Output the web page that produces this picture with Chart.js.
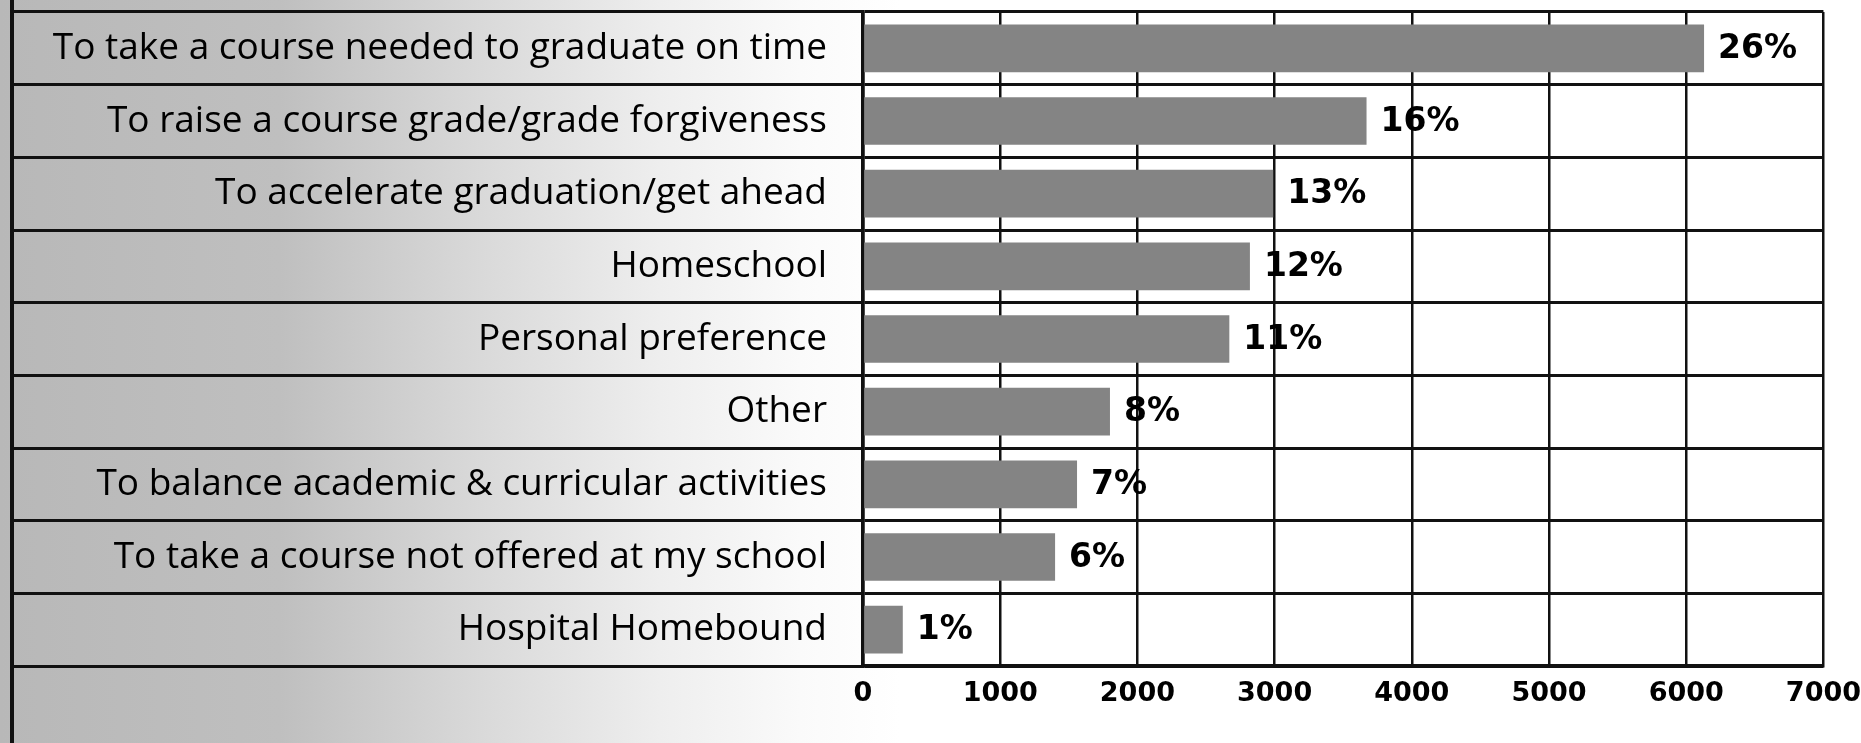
<!DOCTYPE html>
<html>
<head>
<meta charset="utf-8">
<title>Reasons for taking online courses</title>
<script src="https://cdn.jsdelivr.net/npm/chart.js@4.4.1/dist/chart.umd.min.js"></script>
<style>
    html, body {
        margin: 0;
        padding: 0;
        width: 1861px;
        height: 743px;
        overflow: hidden;
        /* fundo cinza à esquerda que clareia até o branco */
        background: linear-gradient(to right, #b8b8b8 0px, #bfbfbf 280px, #d9d9d9 480px, #eeeeee 660px, #fafafa 800px, #ffffff 900px);
    }
    #chartBox {
        position: relative;
        width: 1861px;
        height: 743px;
    }
</style>
</head>
<body>
<div id="chartBox">
    <canvas id="reasonsChart"></canvas>
</div>
<script>
// Dados
const categories = [
    "To take a course needed to graduate on time",
    "To raise a course grade/grade forgiveness",
    "To accelerate graduation/get ahead",
    "Homeschool",
    "Personal preference",
    "Other",
    "To balance academic & curricular activities",
    "To take a course not offered at my school",
    "Hospital Homebound",
];
const responses = [6130, 3670, 2990, 2820, 2670, 1800, 1560, 1400, 290];
const shares = ["26%", "16%", "13%", "12%", "11%", "8%", "7%", "6%", "1%"];
const xMin = 0;
const xMax = 7000;
const xStep = 1000;

const LABEL_GAP = 36;     // espaço entre o texto da categoria e o eixo
const LABEL_COL = 851;    // largura da coluna de categorias

// Fundo branco da área do gráfico + borda esquerda da moldura
const frameBackground = {
    id: "frameBackground",
    beforeDraw(chart) {
        const { ctx, chartArea } = chart;
        ctx.save();
        ctx.fillStyle = "#ffffff";
        ctx.fillRect(chartArea.left, chartArea.top, chartArea.right - chartArea.left, chartArea.bottom - chartArea.top);
        ctx.restore();
    },
    afterDraw(chart) {
        const { ctx } = chart;
        const left = chart.scales.y.left;
        ctx.save();
        ctx.strokeStyle = "#111";
        ctx.lineWidth = 4;
        ctx.beginPath();
        ctx.moveTo(left, 0);
        ctx.lineTo(left, chart.height);
        ctx.stroke();
        ctx.restore();
    },
};

// Percentuais ao lado de cada barra
const shareLabels = {
    id: "shareLabels",
    afterDatasetsDraw(chart) {
        const { ctx } = chart;
        const meta = chart.getDatasetMeta(0);
        ctx.save();
        ctx.fillStyle = "#000";
        ctx.font = "bold 33px 'DejaVu Sans'";
        ctx.textAlign = "left";
        ctx.textBaseline = "middle";
        meta.data.forEach((bar, i) => {
            ctx.fillText(shares[i], bar.x + 14, bar.y + 1);
        });
        ctx.restore();
    },
};

const reasonsChart = new Chart(document.getElementById("reasonsChart"), {
    type: "bar",
    data: {
        labels: categories,
        datasets: [
            {
                label: "Responses",
                data: responses,
                backgroundColor: "#848484",
                borderWidth: 0,
                categoryPercentage: 0.82,
                barPercentage: 0.8,
            },
        ],
    },
    options: {
        indexAxis: "y",
        responsive: true,
        maintainAspectRatio: false,
        animation: false,
        layout: {
            padding: { left: 12, right: 3, top: 12, bottom: 0 },
        },
        plugins: {
            legend: { display: false },
            tooltip: { enabled: false },
        },
        scales: {
            x: {
                min: xMin,
                max: xMax,
                ticks: {
                    stepSize: xStep,
                    color: "#000",
                    padding: 12,
                    font: { family: "'DejaVu Sans'", size: 27, weight: "bold" },
                    callback: (value) => String(value),
                },
                grid: {
                    color: "#111",
                    lineWidth: 2.5,
                    drawTicks: false,
                },
                border: { color: "#111", width: 3.5 },
                afterFit(scale) {
                    scale.height = 77;
                    // o último rótulo ("7000") pode encostar na borda direita
                    scale.paddingRight = Math.max(scale.paddingRight - scale.options.ticks.padding, 0);
                },
            },
            y: {
                ticks: {
                    color: "#000",
                    padding: LABEL_GAP - LABEL_COL,
                    autoSkip: false,
                    font: { family: "'Open Sans'", size: 37, weight: 500 },
                },
                grid: {
                    color: "#111",
                    lineWidth: 3,
                    drawTicks: true,
                    tickLength: LABEL_COL,
                },
                border: { color: "#111", width: 3.5 },
                afterFit(scale) {
                    scale.width = LABEL_COL;
                },
            },
        },
    },
    plugins: [frameBackground, shareLabels],
});
</script>
</body>
</html>
